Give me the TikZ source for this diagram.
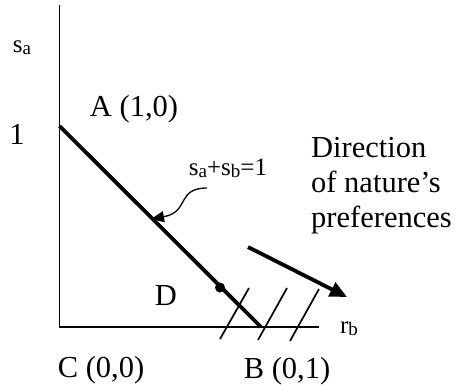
\documentclass[tikz,border=0pt]{standalone}
\usepackage{fontspec}
\setmainfont{Liberation Serif}
\usetikzlibrary{arrows.meta}
\newcommand{\bigtxt}{\fontsize{30.5}{35}\selectfont}
\newcommand{\smtxt}{\fontsize{25}{28}\selectfont}
\newcommand{\sbs}[1]{\raisebox{-2.5pt}{\fontsize{19}{20}\selectfont #1}}
\begin{document}
\begin{tikzpicture}[x=1pt,y=-1pt,
  lbl/.style={inner sep=0pt,font=\bigtxt},
  slbl/.style={inner sep=0pt,font=\smtxt},
  axis/.style={line width=1.7pt},
  budget/.style={line width=3.8pt},
  hatch/.style={line width=1.7pt},
  dirarrow/.style={line width=3.8pt,-{Triangle[length=17pt,width=15pt]}},
  curvearrow/.style={line width=1.3pt,-{Triangle[length=13pt,width=11pt]}}]
\useasboundingbox (0,0) rectangle (460,384);
% axes
\coordinate (top) at (59.5,5);
\coordinate (C0) at (59.5,327);
\coordinate (right) at (319,327);
\draw[axis] (top) -- (C0) -- (right);
% budget line
\coordinate (A0) at (59.5,126);
\coordinate (B0) at (261,327);
\draw[budget] (A0) -- (B0);
\coordinate (Dt) at (220,287.5);
\fill (Dt) circle (5);
% hatch lines
\coordinate (h1a) at (220,339); \coordinate (h1b) at (249,288);
\coordinate (h2a) at (258,340); \coordinate (h2b) at (287,288);
\coordinate (h3a) at (290,341); \coordinate (h3b) at (319,289);
\draw[hatch] (h1a) -- (h1b);
\draw[hatch] (h2a) -- (h2b);
\draw[hatch] (h3a) -- (h3b);
% direction arrow
\coordinate (d1) at (248,247);
\coordinate (d2) at (347,297);
\draw[dirarrow] (d1) -- (d2);
% curved arrow
\coordinate (c1) at (207,188);
\coordinate (c2) at (151,219);
\draw[curvearrow] (c1) .. controls (176,188) and (190,212) .. (c2);
% labels
\node[slbl,anchor=base] (sa) at (22,52) {s\sbs{a}};
\node[lbl,anchor=base] (one) at (17,144) {1};
\node[lbl,anchor=base] (A) at (134,116) {A (1,0)};
\node[slbl,anchor=base] (eq) at (228,175) {s\sbs{a}+s\sbs{b}=1};
\node[lbl,anchor=base west] (dir1) at (311,157) {Direction};
\node[lbl,anchor=base west] (dir2) at (311,192) {of nature’s};
\node[lbl,anchor=base west] (dir3) at (311,227) {preferences};
\node[lbl,anchor=base] (D) at (166,305) {D};
\node[slbl,anchor=base] (rb) at (349,333) {r\sbs{b}};
\node[lbl,anchor=base] (C) at (101,377) {C (0,0)};
\node[lbl,anchor=base] (B) at (287,378) {B (0,1)};
\end{tikzpicture}
\end{document}
